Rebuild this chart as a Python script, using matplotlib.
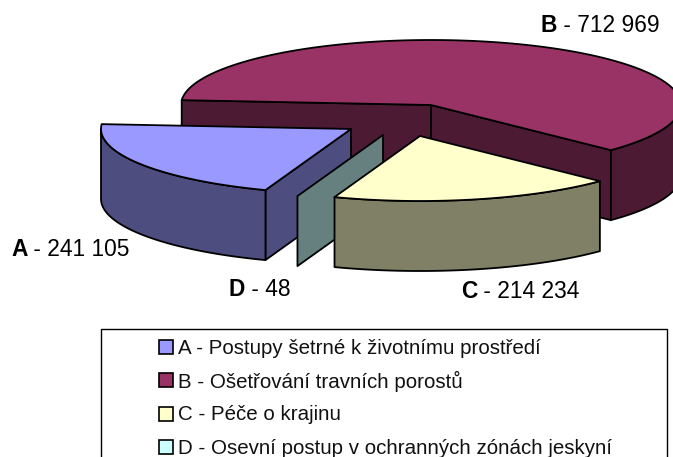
import matplotlib
matplotlib.use('Agg')
import matplotlib.pyplot as plt
import numpy as np
from matplotlib.patches import Polygon, Rectangle

plt.rcParams['font.family'] = ['Liberation Sans', 'DejaVu Sans']

# data
keys = ['A', 'B', 'C', 'D']
values = [241105, 712969, 214234, 48]
value_labels = ['241 105', '712 969', '214 234', '48']
legend_names = ['A - Postupy šetrné k životnímu prostředí',
                'B - Ošetřování travních porostů',
                'C - Péče o krajinu',
                'D - Osevní postup v ochranných zónách jeskyní']
top_colors = ['#9999FF', '#993366', '#FFFFCC', '#CCFFFF']
side_colors = ['#4D4D80', '#4D1A33', '#808066', '#668080']

# layout in pixels
W, H = 673, 457
rx, ry = 250, 65
thick = 70
centers = {'A': (351, 129), 'B': (431, 105), 'C': (420, 136), 'D': (383, 135)}
start_angle = 175.7  # B starts here going clockwise, order B C D A

fig = plt.figure(figsize=(W / 100, H / 100), dpi=100)
ax = fig.add_axes([0, 0, 1, 1])
ax.set_xlim(0, W)
ax.set_ylim(H, 0)
ax.axis('off')

# slice angles from the values
total = sum(values)
angles = {}
a = start_angle
for i in [1, 2, 3, 0]:
    span = values[i] / total * 360
    angles[keys[i]] = (a, a - span)
    a -= span


def pt(key, deg, dy=0):
    cx, cy = centers[key]
    t = np.radians(deg)
    return np.c_[cx + rx * np.cos(t), cy - ry * np.sin(t) + dy]


def arc(key, a1, a2, dy=0):
    return pt(key, np.linspace(a1, a2, 120), dy)


def poly(xy, color, z):
    ax.add_patch(Polygon(xy, closed=True, facecolor=color, edgecolor='black',
                         linewidth=1.3, joinstyle='round', zorder=z))


def quad(key, p, color, z):
    # vertical cut face from the apex down
    c = np.array([centers[key]], dtype=float)
    q = np.vstack([c, p, p + [0, thick], c + [0, thick]])
    poly(q, color, z)


def rim(key, a1, a2, color, z):
    poly(np.vstack([arc(key, a1, a2), arc(key, a2, a1, thick)]), color, z)


def top(key, a1, a2, color, z):
    c = np.array([centers[key]], dtype=float)
    poly(np.vstack([c, arc(key, a1, a2)]), color, z)


# B
b1, b2 = angles['B']
quad('B', pt('B', b1), side_colors[1], 1)
quad('B', pt('B', b2), side_colors[1], 1)
rim('B', b2, 0, side_colors[1], 1)
top('B', b1, b2, top_colors[1], 2)

# A
a1, a2 = angles['A']
quad('A', pt('A', a1), side_colors[0], 3)
rim('A', a1, -180, side_colors[0], 3)
top('A', a1, a2, top_colors[0], 4)

# D is nearly no slice, only its cut face shows, in front of A
d1, d2 = angles['D']
quad('D', pt('D', d2), side_colors[3], 5)

# C
c1, c2 = angles['C']
rim('C', c1, c2, side_colors[2], 6)
top('C', c1, c2, top_colors[2], 7)

# value labels
label_pos = [(11, 249), (541, 25), (461, 291), (229, 289)]
for k, v, (x, y) in zip(keys, value_labels, label_pos):
    t = ax.text(x, y, k, fontsize=16.4, fontweight='bold', va='center', ha='left', zorder=10)
    fig.canvas.draw()
    bb = t.get_window_extent()
    ax.text(bb.x1, y, ' - ' + v, fontsize=16.4, va='center', ha='left', zorder=10)

# legend box, runs off the bottom of the picture
ax.add_patch(Rectangle((101, 329), 566, 160, facecolor='white', edgecolor='black',
                       linewidth=1.0, zorder=8, clip_on=True))
legend_y = [347, 380, 414, 447]
for name, c, y in zip(legend_names, top_colors, legend_y):
    ax.add_patch(Rectangle((159, y - 7), 14, 14, facecolor=c, edgecolor='black',
                           linewidth=1.2, zorder=9))
    ax.text(178, y + 1, name, fontsize=14.8, va='center', ha='left', color='#111111', zorder=10)

fig.savefig('out.png', dpi=100)
